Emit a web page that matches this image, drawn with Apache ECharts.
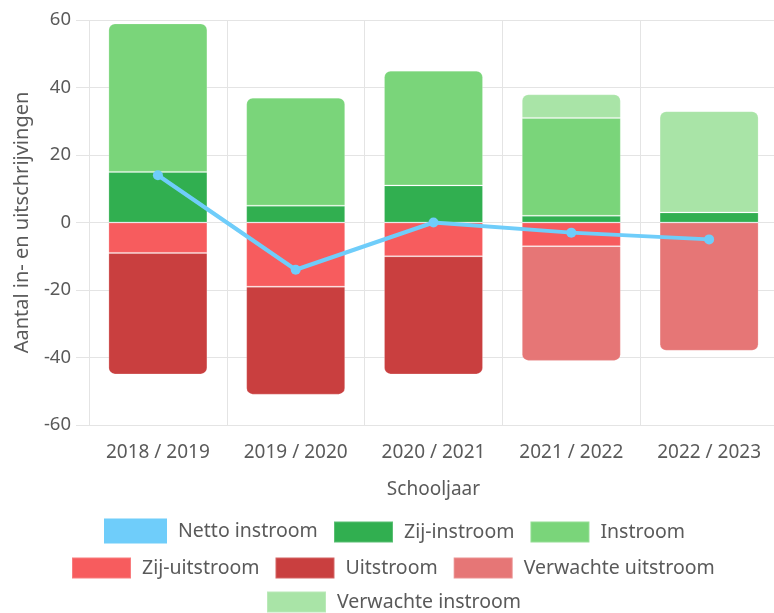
<!DOCTYPE html>
<html>
<head>
<meta charset="utf-8">
<script src="https://cdn.jsdelivr.net/npm/echarts@6/dist/echarts.min.js"></script>
<style>html,body{margin:0;padding:0;background:#fff}#c{width:774px;height:613px}</style>
</head>
<body>
<div id="c"></div>
<script>
const categories = ['2018 / 2019', '2019 / 2020', '2020 / 2021', '2021 / 2022', '2022 / 2023'];
const nettoInstroom = [14, -14, 0, -3, -5];
const zijInstroom = [15, 5, 11, 2, 3];
const instroom = [44, 32, 34, 29, 0];
const verwachteInstroom = [0, 0, 0, 7, 30];
const zijUitstroom = [-9, -19, -10, -7, 0];
const uitstroom = [-36, -32, -35, 0, 0];
const verwachteUitstroom = [0, 0, 0, -34, -38];
const yTicks = { min: -60, max: 60, interval: 20 };

const FONT = 'Noto Sans';
const TXT = '#5a5a5a';
const GRIDC = '#e4e4e4';
const R = 6;
const BORDER = { borderColor: 'rgba(255,255,255,0.2)', borderWidth: 1 };

function toData(arr, rFn) {
  return arr.map((v, i) => v === 0 ? '-' : { value: v, itemStyle: { borderRadius: rFn(i) } });
}
function outermost(segs) {
  let last = -1; segs.forEach((v, k) => { if (v !== 0) last = k; });
  return last;
}
function posR(which) {
  return i => outermost([zijInstroom[i], instroom[i], verwachteInstroom[i]]) === which ? [R, R, 0, 0] : 0;
}
function negR(which) {
  return i => outermost([zijUitstroom[i], uitstroom[i], verwachteUitstroom[i]]) === which ? [0, 0, R, R] : 0;
}

const barBase = { type: 'bar', stack: 'a', barWidth: 99 };

const chart = echarts.init(document.getElementById('c'), null, { renderer: 'canvas' });
const legendCommon = {
  icon: 'rect', itemWidth: 59, itemHeight: 21, itemGap: 15, padding: 0,
  textStyle: { fontFamily: FONT, fontSize: 19.5, color: TXT, padding: [0, 0, 0, 6] },
  selectedMode: false
};
const L = o => Object.assign({}, legendCommon, o);
chart.setOption({
  animation: false,
  textStyle: { fontFamily: FONT },
  grid: { left: 89, right: -4, top: 20, bottom: 188, containLabel: false, outerBoundsMode: 'none' },
  legend: [
    L({ left: 104, top: 518.5, itemWidth: 63, itemHeight: 25, data: ['Netto instroom'] }),
    L({ left: 333, top: 520.5, data: ['Zij-instroom', 'Instroom'] }),
    L({ left: 71, top: 556.5, data: ['Zij-uitstroom', 'Uitstroom', 'Verwachte uitstroom'] }),
    L({ left: 266, top: 590.5, data: ['Verwachte instroom'] })
  ],
  xAxis: {
    type: 'category',
    data: categories,
    name: 'Schooljaar',
    nameLocation: 'middle',
    nameGap: 55,
    nameTextStyle: { fontFamily: FONT, fontSize: 19, color: TXT },
    axisLine: { show: true, lineStyle: { color: GRIDC } },
    axisTick: { show: true, length: 12, lineStyle: { color: GRIDC } },
    splitLine: { show: true, lineStyle: { color: GRIDC } },
    axisLabel: { fontFamily: FONT, fontSize: 19, color: TXT, margin: 18 }
  },
  yAxis: {
    type: 'value',
    min: yTicks.min, max: yTicks.max, interval: yTicks.interval,
    name: 'Aantal in- en uitschrijvingen',
    nameLocation: 'middle',
    nameGap: 57,
    nameTextStyle: { fontFamily: FONT, fontSize: 20, color: TXT },
    axisLine: { show: false },
    axisTick: { show: true, length: 13, lineStyle: { color: GRIDC } },
    splitLine: { show: true, lineStyle: { color: GRIDC } },
    axisLabel: { fontFamily: FONT, fontSize: 18.5, color: TXT, margin: 18 }
  },
  series: [
    { name: 'Netto instroom', type: 'line', data: nettoInstroom, z: 10,
      color: '#6FCDFA', symbol: 'circle', symbolSize: 10,
      lineStyle: { width: 4, color: '#6FCDFA' }, itemStyle: { color: '#6FCDFA' } },
    Object.assign({}, barBase, { name: 'Zij-instroom', color: '#31AF50', itemStyle: Object.assign({ color: '#31AF50' }, BORDER), data: toData(zijInstroom, posR(0)) }),
    Object.assign({}, barBase, { name: 'Instroom', color: '#7AD57A', itemStyle: Object.assign({ color: '#7AD57A' }, BORDER), data: toData(instroom, posR(1)) }),
    Object.assign({}, barBase, { name: 'Zij-uitstroom', color: '#F75C5E', itemStyle: Object.assign({ color: '#F75C5E' }, BORDER), data: toData(zijUitstroom, negR(0)) }),
    Object.assign({}, barBase, { name: 'Uitstroom', color: '#C93F3F', itemStyle: Object.assign({ color: '#C93F3F' }, BORDER), data: toData(uitstroom, negR(1)) }),
    Object.assign({}, barBase, { name: 'Verwachte uitstroom', color: '#E67676', itemStyle: Object.assign({ color: '#E67676' }, BORDER), data: toData(verwachteUitstroom, negR(2)) }),
    Object.assign({}, barBase, { name: 'Verwachte instroom', color: '#A9E4A7', itemStyle: Object.assign({ color: '#A9E4A7' }, BORDER), data: toData(verwachteInstroom, posR(2)) })
  ]
});
</script>
</body>
</html>
